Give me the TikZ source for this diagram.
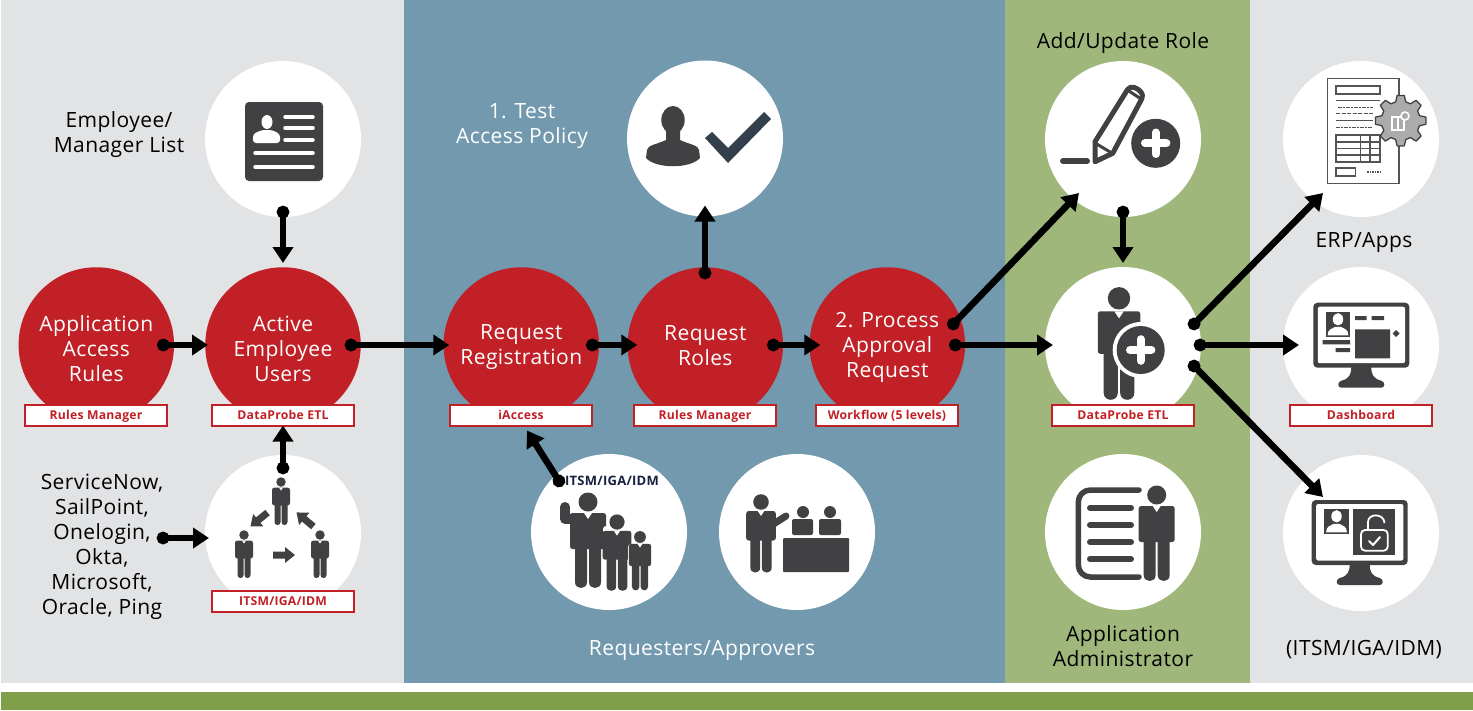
\documentclass[tikz,border=0pt]{standalone}
\usepackage{fontspec}
\setmainfont[LetterSpace=2]{Open Sans}
\usetikzlibrary{arrows.meta}
\definecolor{panelgray}{HTML}{E2E3E5}
\definecolor{panelblue}{HTML}{7299AE}
\definecolor{panelgreen}{HTML}{A0B77B}
\definecolor{barGreen}{HTML}{7F9F4B}
\definecolor{cred}{HTML}{C12026}
\definecolor{icondark}{HTML}{414042}
\definecolor{checkdark}{HTML}{333F4B}
\definecolor{navytext}{HTML}{1A2040}
\definecolor{gearfill}{HTML}{ABABAB}
\newcommand\redthree[4][26]{\rule{0pt}{#1pt}#2\\#3\\\rule[-2.6pt]{0pt}{2.6pt}#4}
\newcommand\redtwo[3][19]{\rule{0pt}{#1pt}#2\\\rule[-6pt]{0pt}{6pt}#3}
\tikzset{
  whitecirc/.style={circle,fill=white,minimum size=156pt,inner sep=0pt,outer sep=0pt},
  redcirc/.style={circle,fill=cred,text=white,minimum size=155.5pt,inner sep=0pt,outer sep=0pt,align=center,font=\fontsize{21}{25}\selectfont},
  tagbox/.style={draw=cred,line width=2pt,fill=white,text=cred,minimum width=142pt,minimum height=21pt,inner sep=0pt,outer sep=0pt,text height=10pt,text depth=1.5pt,font=\fontsize{12.2}{14}\selectfont\bfseries},
  blacktext/.style={text=black,align=center,inner sep=0pt,font=\fontsize{21}{25}\selectfont},
  whitetext/.style={text=white,align=center,inner sep=0pt,font=\fontsize{21}{25}\selectfont},
  flow/.style={line width=6.6pt,draw=black,{Circle[length=12.5pt]}-{Triangle[length=16pt,width=20pt]},shorten <=-6.2pt},
  icon/.style={fill=icondark},
  iconline/.style={draw=icondark,line cap=round,line join=round},
  man/.pic={
    \fill[icon] (0,0) circle[radius=9.5];
    \fill[icon,rounded corners=2.5pt] (-18,11) rectangle (18,47);
    \fill[icon] (-13,40) -- (-13,80) .. controls (-13,88) and (-1,88) .. (-1,80) -- (-1,40) -- cycle;
    \fill[icon] (1,40) -- (1,80) .. controls (1,88) and (13,88) .. (13,80) -- (13,40) -- cycle;
    \fill[white] (-4,11) -- (0,17) -- (4,11) -- cycle;
  },
  blockarrow/.pic={
    \fill[icon] (-11,-3.5) -- (1,-3.5) -- (1,-8) -- (11,0) -- (1,8) -- (1,3.5) -- (-11,3.5) -- cycle;
  },
  photoperson/.pic={
    \fill[white] (0,-6) ellipse[x radius=5.5,y radius=6.5];
    \fill[white] (-11,11) .. controls (-11,4) and (-6,4) .. (-3,2) -- (3,2) .. controls (6,4) and (11,4) .. (11,11) -- cycle;
  },
  monitor/.pic={
    \fill[icon,rounded corners=4pt] (0,0) rectangle (96,65);
    \fill[white,rounded corners=2pt] (4.5,4) rectangle (91.7,60.5);
    \fill[icon] (38,64) .. controls (38,72) and (36,76) .. (28,78) .. controls (24,79) and (24,85) .. (28,85) -- (68,85) .. controls (72,85) and (72,79) .. (68,78) .. controls (60,76) and (58,72) .. (58,64) -- cycle;
  },
}
\begin{document}
\begin{tikzpicture}[x=1pt,y=-1pt]
\useasboundingbox (0,0) rectangle (1473,710);
\fill[white] (0,0) rectangle (1473,710);
% panels
\fill[panelgray] (1,0) rectangle (404,683);
\fill[panelblue] (404,0) rectangle (1005,683);
\fill[panelgreen] (1005,0) rectangle (1250,683);
\fill[panelgray] (1250,0) rectangle (1473,683);
\fill[barGreen] (1,692) rectangle (1473,710);

% white circles
\node[whitecirc] (list) at (283,139) {};
\node[whitecirc] (group) at (283,533) {};
\node[whitecirc] (test) at (705,138.5) {};
\node[whitecirc] (family) at (609,532) {};
\node[whitecirc] (desk) at (797,532) {};
\node[whitecirc] (pencil) at (1123,139) {};
\node[whitecirc] (plus) at (1123,345) {};
\node[whitecirc] (admin) at (1123,532) {};
\node[whitecirc] (erp) at (1361,139) {};
\node[whitecirc] (dash) at (1361,345) {};
\node[whitecirc] (lock) at (1361,533) {};

% red circles
\node[redcirc] (rules) at (96.3,345) {\redthree{Application}{Access}{Rules}};
\node[redcirc] (active) at (283,345) {\redthree{Active}{Employee}{Users}};
\node[redcirc] (reg) at (521.3,345) {\redtwo{Request}{Registration}};
\node[redcirc] (roles) at (705.3,345) {\redtwo[21]{Request}{Roles}};
\node[redcirc] (proc) at (887.3,345) {\redthree[20]{2. Process}{Approval}{Request}};

% tags
\node[tagbox] (t1) at (96,415) {Rules Manager};
\node[tagbox] (t2) at (283,415) {DataProbe ETL};
\node[tagbox] (t3) at (521,415) {iAccess};
\node[tagbox] (t4) at (705,415) {Rules Manager};
\node[tagbox] (t5) at (887,415) {Workflow (5 levels)};
\node[tagbox] (t6) at (1123,415) {DataProbe ETL};
\node[tagbox] (t7) at (1361,415) {Dashboard};
\node[tagbox] (t8) at (283,601.5) {ITSM/IGA/IDM};

% free text
\node[blacktext] (tlist) at (119,135) {Employee/\\Manager List};
\node[blacktext] (tsys) at (102,547) {ServiceNow,\\SailPoint,\\Onelogin,\\Okta,\\Microsoft,\\Oracle, Ping};
\node[whitetext] (ttest) at (522,126.5) {1. Test\\Access Policy};
\node[whitetext] (treq) at (702,650.5) {Requesters/Approvers};
\node[blacktext] (tadd) at (1123,43) {Add/Update Role};
\node[blacktext] (tadmin) at (1123,646) {Application\\Administrator};
\node[blacktext] (terp) at (1364,242.5) {ERP/Apps};
\node[blacktext] (tlock) at (1364,650) {(ITSM/IGA/IDM)};
\node[text=navytext,inner sep=0pt,font=\fontsize{13}{15}\selectfont\bfseries] (tfam) at (612,481) {ITSM/IGA/IDM};
\coordinate (sysout) at (163,538);

% ---- icons ----
% employee card
\fill[icon,rounded corners=4pt] (245,102) rectangle (323,181);
\fill[white] (267,122) ellipse[x radius=5.5,y radius=7];
\fill[white,rounded corners=3pt] (253,143) -- (253,134) -- (262,130) -- (272,130) -- (280,134) -- (280,143) -- cycle;
\draw[white,line width=3.5pt,line cap=round] (285,117) -- (313,117) (285,128) -- (313,128) (285,140) -- (313,140) (255,153) -- (313,153) (255,167) -- (313,167);

% group icon
\pic[scale=.5] at (281,482) {man};
\pic[scale=.5] at (244,535) {man};
\pic[scale=.5] at (320,535) {man};
\pic[rotate=219] at (259,519.5) {blockarrow};
\pic[rotate=140] at (305,519.5) {blockarrow};
\pic at (284,555) {blockarrow};

% person + check
\fill[icon] (673,120) ellipse[x radius=11.7,y radius=14];
\fill[icon] (646,158) -- (647,150) .. controls (648,145) and (655,145) .. (666,140) -- (666,128) -- (680,128) -- (680,140) .. controls (691,145) and (698,145) .. (699,150) -- (700,158) .. controls (690,169) and (656,169) .. (646,158) -- cycle;
\fill[checkdark] (712,132) -- (728,148) -- (764,112) -- (771,119) -- (728,163) -- (705,138) -- cycle;

% family
\draw[iconline,line width=10pt] (565,507) -- (565,519) -- (578,519);
\pic at (588,502) {man};
\fill[white,rounded corners=3pt] (603,526) rectangle (634,590);
\pic[scale=.8] at (617,522) {man};
\fill[white,rounded corners=3pt] (628,544) rectangle (653,590);
\pic[scale=.62] at (640,537) {man};

% desk
\pic[scale=.82] at (761,502) {man};
\draw[iconline,line width=7pt] (772,525) -- (786,516);
\fill[icon] (803,512) circle[radius=6];
\fill[icon] (830,512) circle[radius=6];
\fill[icon,rounded corners=2pt] (792,519) rectangle (813,535);
\fill[icon,rounded corners=2pt] (819,519) rectangle (841,535);
\fill[icon,rounded corners=1pt] (783,538) rectangle (849,572);

% pencil
\draw[iconline,line width=5pt,fill=white] (1095,161.7) -- (1095,141.7) -- (1127.7,89.3) .. controls (1131,85) and (1137,88) .. (1140,91) .. controls (1143,94) and (1143,97) .. (1141.7,99) -- (1112.7,153.3) -- cycle;
\draw[iconline,line width=3pt] (1095,143) -- (1110,152);
\draw[iconline,line width=3pt] (1129,91) -- (1141,99);
\draw[iconline,line width=6pt] (1063,161) -- (1087,161);
\fill[icon] (1155.7,143.3) circle[radius=24.5];
\draw[white,line width=8pt,line cap=round] (1145,143.3) -- (1166.4,143.3) (1155.7,132.5) -- (1155.7,154);

% person plus
\pic[scale=1.18] at (1119,298.3) {man};
\fill[white] (1140.7,350) circle[radius=28];
\fill[icon] (1140.7,350) circle[radius=24];
\draw[white,line width=8pt,line cap=round] (1130,350) -- (1151.4,350) (1140.7,339.2) -- (1140.7,360.8);

% admin
\draw[iconline,line width=5.5pt,rounded corners=12pt] (1139,490) -- (1078.3,490) -- (1078.3,577) -- (1139,577);
\draw[iconline,line width=6pt] (1090,507.7) -- (1131,507.7) (1090,525) -- (1131,525) (1090,542) -- (1131,542) (1090,559) -- (1131,559);
\pic at (1156.7,495) {man};

% document + gear
\begin{scope}[draw=icondark!90]
\draw[line width=1.5pt] (1327.3,78.3) rectangle (1399,183.3);
\draw[line width=1.6pt] (1335.7,86) rectangle (1380,94);
\draw[line width=1pt] (1336,100) -- (1380,100) (1336,120) -- (1373,120);
\draw[line width=1pt,dash pattern=on 4pt off 1pt on 2pt off 1pt] (1338,107) -- (1373,107);
\draw[line width=1pt,dash pattern=on 4pt off 1.5pt] (1336,113.5) -- (1373,113.5);
\draw[line width=1pt,dash pattern=on 4pt off 1pt on 2pt off 1pt] (1336,127) -- (1372,127);
\draw[line width=1.5pt] (1336,135) rectangle (1380,162);
\draw[line width=1.3pt] (1336,142) -- (1380,142) (1336,148.5) -- (1380,148.5) (1336,155) -- (1380,155) (1360.5,135) -- (1360.5,162) (1370,135) -- (1370,162);
\draw[line width=1.6pt] (1336,168) rectangle (1355.5,176);
\draw[line width=1.2pt,dash pattern=on 1.5pt off 1pt] (1367,172) -- (1380,172);
\end{scope}
\filldraw[fill=gearfill,draw=icondark,line width=1.3pt,line join=round,shift={(1400.7,120.7)}]
  (-15:19.5)
  \foreach \a in {0,45,...,315}{
    -- ({\a-15}:19.5) -- ({\a-8}:25.5) -- ({\a+8}:25.5) -- ({\a+15}:19.5)
  } -- cycle;
\draw[white,line width=1.3pt] (1392,117) rectangle (1398,130) (1398,117) rectangle (1404,130);
\filldraw[fill=gearfill,draw=white,line width=1.6pt] (1405,116) circle[radius=4];

% dashboard monitor
\pic at (1313.3,302.7) {monitor};
\fill[icon] (1326,312.3) rectangle (1350,336.7);
\pic[scale=.95] at (1338,325) {photoperson};
\fill[icon] (1355,316) rectangle (1366.7,320) (1371.7,316) rectangle (1384,320) (1355,329.3) rectangle (1390,358.3) (1322.7,340) rectangle (1350,344.3) (1335.7,348) rectangle (1350,352);
\fill[icon] (1396,330) -- (1399.5,333.5) -- (1396,337) -- (1392.5,333.5) -- cycle;

% lock monitor
\pic at (1311.7,500) {monitor};
\fill[icon] (1324.3,509.3) rectangle (1348.7,534.3);
\pic[scale=.95] at (1336.5,522) {photoperson};
\fill[icon] (1353.3,509.3) rectangle (1395.3,555.3);
\draw[white,line width=1.8pt,rounded corners=4pt,fill=icondark] (1361,530) rectangle (1387.7,550.7);
\draw[white,line width=1.8pt] (1368,530) -- (1368,522) .. controls (1368,513) and (1384,513) .. (1384.5,523);
\draw[white,line width=2pt,line cap=round,line join=round] (1369,541) -- (1373,545) -- (1380,537);

% ---- connectors ----
\draw[flow] ([shift={(67,0)}]rules.center) -- ([shift={(-75,0)}]active.center);
\draw[flow] ([shift={(68,0)}]active.center) -- ([shift={(-72,0)}]reg.center);
\draw[flow] ([shift={(71,0)}]reg.center) -- ([shift={(-68,0)}]roles.center);
\draw[flow] ([shift={(68,0)}]roles.center) -- ([shift={(-67,0)}]proc.center);
\draw[flow] ([shift={(68,0)}]proc.center) -- ([shift={(-70,0)}]plus.center);
\draw[flow] ([shift={(66,-21)}]proc.center) -- ([shift={(-44,54)}]pencil.center);
\draw[flow] ([shift={(-.3,-72)}]roles.center) -- ([shift={(0,67)}]test.center);
\draw[flow] ([shift={(0,73)}]list.center) -- ([shift={(0,-82)}]active.center);
\draw[flow] ([shift={(0,-65)}]group.center) -- (t2.south);
\draw[flow] (sysout) -- ([shift={(-74,5)}]group.center);
\draw[flow] ([shift={(-50,-51)}]family.center) -- ([shift={(6,5)}]t3.south);
\draw[flow] ([shift={(0,73)}]pencil.center) -- ([shift={(0,-82)}]plus.center);
\draw[flow] ([shift={(71,-21)}]plus.center) -- ([shift={(-38,54)}]erp.center);
\draw[flow] ([shift={(77,0)}]plus.center) -- ([shift={(-62,0)}]dash.center);
\draw[flow] ([shift={(71,21)}]plus.center) -- ([shift={(-38,-36)}]lock.center);
\end{tikzpicture}
\end{document}
